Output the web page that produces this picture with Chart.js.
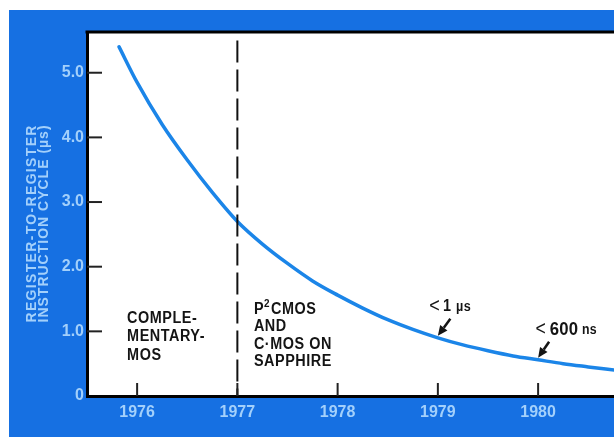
<!DOCTYPE html>
<html>
<head>
<meta charset="utf-8">
<script src="https://cdn.jsdelivr.net/npm/chart.js@4.4.1/dist/chart.umd.min.js"></script>
<style>
  html, body { margin: 0; padding: 0; background: #ffffff; }
  canvas { display: block; }
</style>
</head>
<body>
<canvas id="chart" width="614" height="437"></canvas>
<script>
// Register-to-register instruction cycle time by year (microseconds)
const years = [1975.82, 1976.0, 1976.25, 1976.5, 1976.75, 1977.0, 1977.25, 1977.5, 1977.75,
               1978.0, 1978.25, 1978.5, 1978.75, 1979.0, 1979.25, 1979.5, 1979.75,
               1980.0, 1980.25, 1980.5, 1980.76];
const cycleMicros = [5.40, 4.85, 4.20, 3.65, 3.15, 2.70, 2.35, 2.05, 1.78,
                     1.56, 1.36, 1.18, 1.03, 0.90, 0.79, 0.70, 0.62,
                     0.56, 0.50, 0.45, 0.40];

// Axis ticks
const xTickYears = [1976, 1977, 1978, 1979, 1980];
const yTickValues = [0, 1, 2, 3, 4, 5];
const yTickLabels = ['0', '1.0', '2.0', '3.0', '4.0', '5.0'];

// Technology boundary (dashed divider)
const dividerYears = [1977, 1977];
const dividerValues = [5.5, 0];

// Axis range
const xRange = [1975.5, 1980.757];
const yRange = [0, 5.63];

const yAxisTitle = ['REGISTER-TO-REGISTER', 'INSTRUCTION CYCLE (\u00b5s)'];

// Milestones pointed at on the curve
const milestoneYears = [1979, 1980];

const BLUE_BG = '#1670e2';
const CURVE = '#1b85e8';
const PALE = '#a3d0fb';
const INK = '#141414';
const FONT = '"Liberation Sans", Arial, Helvetica, sans-serif';

const curvePoints = years.map((x, i) => ({ x, y: cycleMicros[i] }));
const dividerPoints = dividerYears.map((x, i) => ({ x, y: dividerValues[i] }));

function valueAt(year) {
  for (let i = 0; i < years.length - 1; i++) {
    if (year >= years[i] && year <= years[i + 1]) {
      const t = (year - years[i]) / (years[i + 1] - years[i]);
      return cycleMicros[i] + t * (cycleMicros[i + 1] - cycleMicros[i]);
    }
  }
  return cycleMicros[cycleMicros.length - 1];
}

// Draw a row of text runs (own font and baseline shift each), squeezed horizontally by sx
function drawRuns(ctx, x, y, runs, spacing, sx) {
  ctx.save();
  ctx.translate(x, y);
  ctx.scale(sx, 1);
  ctx.textBaseline = 'middle';
  ctx.textAlign = 'left';
  ctx.letterSpacing = spacing + 'px';
  let cx = 0;
  for (const r of runs) {
    ctx.font = r.font;
    cx += r.before || 0;
    ctx.fillText(r.text, cx, r.dy || 0);
    cx += ctx.measureText(r.text).width;
  }
  ctx.restore();
}

function drawArrow(ctx, tx, ty, fx, fy) {
  const ang = Math.atan2(ty - fy, tx - fx);
  const headLen = 10, headW = 4.5;
  const bx = tx - Math.cos(ang) * headLen;
  const by = ty - Math.sin(ang) * headLen;
  ctx.save();
  ctx.strokeStyle = INK;
  ctx.fillStyle = INK;
  ctx.lineWidth = 2.5;
  ctx.beginPath();
  ctx.moveTo(fx, fy);
  ctx.lineTo(bx, by);
  ctx.stroke();
  ctx.beginPath();
  ctx.moveTo(tx, ty);
  ctx.lineTo(bx + Math.sin(ang) * headW, by - Math.cos(ang) * headW);
  ctx.lineTo(bx - Math.sin(ang) * headW, by + Math.cos(ang) * headW);
  ctx.closePath();
  ctx.fill();
  ctx.restore();
}

const framePlugin = {
  id: 'frame',
  beforeDraw(chart) {
    const { ctx, chartArea: a, width, height } = chart;
    ctx.save();
    ctx.fillStyle = '#ffffff';
    ctx.fillRect(0, 0, width, height);
    ctx.fillStyle = BLUE_BG;
    ctx.fillRect(9, 10, width - 9, height - 10);
    ctx.fillStyle = '#ffffff';
    ctx.fillRect(a.left, a.top, a.right - a.left, a.bottom - a.top);
    ctx.restore();
  },
  afterDraw(chart) {
    const { ctx, chartArea: a } = chart;
    const xs = chart.scales.x, ys = chart.scales.y;
    ctx.save();
    // top edge of the plot panel
    ctx.strokeStyle = '#000';
    ctx.lineWidth = 3;
    ctx.beginPath();
    ctx.moveTo(a.left - 1.5, a.top);
    ctx.lineTo(a.right, a.top);
    ctx.stroke();

    // inward tick marks
    ctx.lineWidth = 2;
    ctx.strokeStyle = '#222';
    for (const t of ys.ticks) {
      if (t.value === 0) continue;
      const py = ys.getPixelForValue(t.value);
      ctx.beginPath();
      ctx.moveTo(a.left, py);
      ctx.lineTo(a.left + 15, py);
      ctx.stroke();
    }
    for (const t of xs.ticks) {
      const px = xs.getPixelForValue(t.value);
      ctx.beginPath();
      ctx.moveTo(px, a.bottom);
      ctx.lineTo(px, a.bottom - 13);
      ctx.stroke();
    }

    // rotated y-axis title, two lines
    ctx.fillStyle = PALE;
    ctx.font = 'bold 14px ' + FONT;
    ctx.textBaseline = 'middle';
    const titleX = [32, 44];
    const midY = 224;
    yAxisTitle.forEach((line, i) => {
      ctx.save();
      ctx.translate(titleX[i], midY);
      ctx.rotate(-Math.PI / 2);
      ctx.letterSpacing = '0px';
      const w = ctx.measureText(line).width;
      const sp = Math.max(0, (197 - w) / (line.length - 1));
      ctx.letterSpacing = sp.toFixed(2) + 'px';
      ctx.textAlign = 'left';
      ctx.fillText(line, -98.5, 0);
      ctx.restore();
    });

    // era labels
    ctx.fillStyle = INK;
    const bold16 = 'bold 16px ' + FONT;
    const leftX = xs.getPixelForValue(1975.9);
    let ly = ys.getPixelForValue(1.2);
    ['COMPLE-', 'MENTARY-', 'MOS'].forEach((s, i) => {
      drawRuns(ctx, leftX, ly + i * 18.5, [{ text: s, font: bold16 }], 0.6, 0.9);
    });
    const rightX = xs.getPixelForValue(1977.165);
    ly = ys.getPixelForValue(1.34);
    drawRuns(ctx, rightX, ly, [
      { text: 'P', font: bold16 },
      { text: '2', font: 'bold 11px ' + FONT, dy: -5 },
      { text: 'CMOS', font: bold16, before: 1 }], 0.6, 0.9);
    ['AND', 'C\u00b7MOS ON', 'SAPPHIRE'].forEach((s, i) => {
      drawRuns(ctx, rightX, ly + (i + 1) * 17.5, [{ text: s, font: bold16 }], 0.6, 0.9);
    });

    // milestone callouts
    const tip1x = xs.getPixelForValue(milestoneYears[0]);
    const tip1y = ys.getPixelForValue(valueAt(milestoneYears[0])) - 2;
    drawRuns(ctx, tip1x - 8.5, tip1y - 29, [
      { text: '<', font: '20px ' + FONT },
      { text: '1', font: 'bold 16px ' + FONT, before: 3 },
      { text: '\u00b5s', font: 'bold 14px ' + FONT, before: 5 }], 0.5, 0.9);
    drawArrow(ctx, tip1x, tip1y, tip1x + 12.5, tip1y - 17);

    const tip2x = xs.getPixelForValue(milestoneYears[1]);
    const tip2y = ys.getPixelForValue(valueAt(milestoneYears[1])) - 2;
    drawRuns(ctx, tip2x - 2.5, tip2y - 28, [
      { text: '<', font: '20px ' + FONT },
      { text: '600', font: 'bold 19px ' + FONT, before: 4 },
      { text: 'ns', font: 'bold 14px ' + FONT, before: 4 }], 0.3, 0.88);
    drawArrow(ctx, tip2x, tip2y, tip2x + 11, tip2y - 16);
    ctx.restore();
  }
};

new Chart(document.getElementById('chart'), {
  type: 'scatter',
  data: {
    datasets: [
      {
        data: dividerPoints,
        showLine: true,
        borderColor: '#111',
        borderWidth: 2,
        borderDash: [22, 7],
        pointRadius: 0,
        tension: 0
      },
      {
        data: curvePoints,
        showLine: true,
        borderColor: CURVE,
        borderWidth: 3.5,
        borderCapStyle: 'round',
        pointRadius: 0,
        cubicInterpolationMode: 'monotone'
      }
    ]
  },
  options: {
    responsive: false,
    devicePixelRatio: 1,
    animation: false,
    layout: { padding: { left: 9, top: 32, right: 0, bottom: 0 } },
    plugins: { legend: { display: false }, tooltip: { enabled: false } },
    scales: {
      x: {
        type: 'linear',
        min: xRange[0],
        max: xRange[1],
        afterBuildTicks(scale) { scale.ticks = xTickYears.map(v => ({ value: v })); },
        afterFit(scale) { scale.height = 41; },
        grid: { display: true, drawOnChartArea: false, drawTicks: false },
        border: { display: true, color: '#000', width: 3 },
        ticks: {
          color: PALE,
          padding: 7,
          font: { family: FONT, size: 16, weight: 'bold' },
          callback: v => String(v)
        }
      },
      y: {
        type: 'linear',
        min: yRange[0],
        max: yRange[1],
        afterBuildTicks(scale) { scale.ticks = yTickValues.map(v => ({ value: v })); },
        afterFit(scale) { scale.width = 78; },
        grid: { display: true, drawOnChartArea: false, drawTicks: false },
        border: { display: true, color: '#000', width: 3 },
        ticks: {
          color: PALE,
          padding: 3,
          font: { family: FONT, size: 16, weight: 'bold' },
          callback: v => yTickLabels[yTickValues.indexOf(v)]
        }
      }
    }
  },
  plugins: [framePlugin]
});
</script>
</body>
</html>
